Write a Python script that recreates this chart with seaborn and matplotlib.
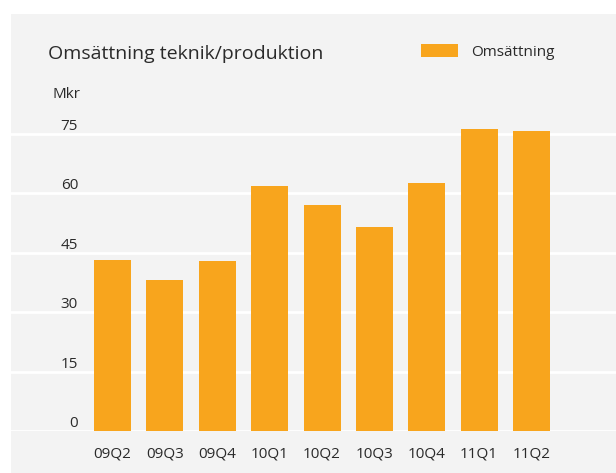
import matplotlib
matplotlib.use("Agg")
import matplotlib.pyplot as plt
from matplotlib.patches import Rectangle
import pandas as pd
import seaborn as sns

# data
quarters = ["09Q2", "09Q3", "09Q4", "10Q1", "10Q2", "10Q3", "10Q4", "11Q1", "11Q2"]
revenue = [43.2, 38.1, 42.9, 61.8, 57.0, 51.5, 62.6, 76.2, 75.7]
y_ticks = [0, 15, 30, 45, 60, 75]

title = "Omsättning teknik/produktion"
series_name = "Omsättning"
unit = "Mkr"

BAR = "#f8a51d"
BG = "#f3f3f3"
TXT = "#2a2a2a"

sns.set_theme(style="white")
plt.rcParams["font.family"] = ["Open Sans", "DejaVu Sans"]

W, H = 616, 473
fig = plt.figure(figsize=(W / 100, H / 100), dpi=100, facecolor="white")
fig.patches.append(Rectangle((11 / W, 0), 1, 1 - 14 / H, transform=fig.transFigure,
                             facecolor=BG, edgecolor="none", zorder=-10))

ax = fig.add_axes([11 / W, (H - 431) / H, (W - 11) / W, (431 - 118) / H])
ax.set_facecolor("none")

df = pd.DataFrame({"quarter": quarters, "value": revenue})
sns.barplot(data=df, x="quarter", y="value", color=BAR, width=0.706,
            saturation=1, label=series_name, ax=ax, zorder=3,
            edgecolor="none", linewidth=0)

ax.set_xlim(-1.938, 9.613)
ax.set_ylim(0, 79.0)
ax.set_yticks(y_ticks)
ax.yaxis.grid(True, color="white", linewidth=2.0, zorder=1)
ax.set_axisbelow(True)
for s in ax.spines.values():
    s.set_visible(False)
ax.set_xlabel("")
ax.set_ylabel("")

# pad is in points: 67 px inside the left edge
ax.tick_params(axis="x", length=0, pad=11.5, labelsize=11, labelcolor=TXT)
ax.tick_params(axis="y", length=0, pad=-67 * 0.72, labelsize=11, labelcolor=TXT)
for lbl in ax.get_yticklabels():
    lbl.set_verticalalignment("bottom")

fig.text(48 / W, 1 - 54 / H, title, fontsize=14, color=TXT, va="center", ha="left")
fig.text(52 / W, 1 - 94 / H, unit, fontsize=11, color=TXT, va="center", ha="left")

ax.legend(loc="center left", bbox_to_anchor=(421 / W, 1 - 52 / H),
          bbox_transform=fig.transFigure, frameon=False, borderpad=0,
          borderaxespad=0, fontsize=11, labelcolor=TXT,
          handlelength=2.4, handleheight=0.9, handletextpad=0.85)

fig.savefig("out.png", dpi=100, facecolor="white")
